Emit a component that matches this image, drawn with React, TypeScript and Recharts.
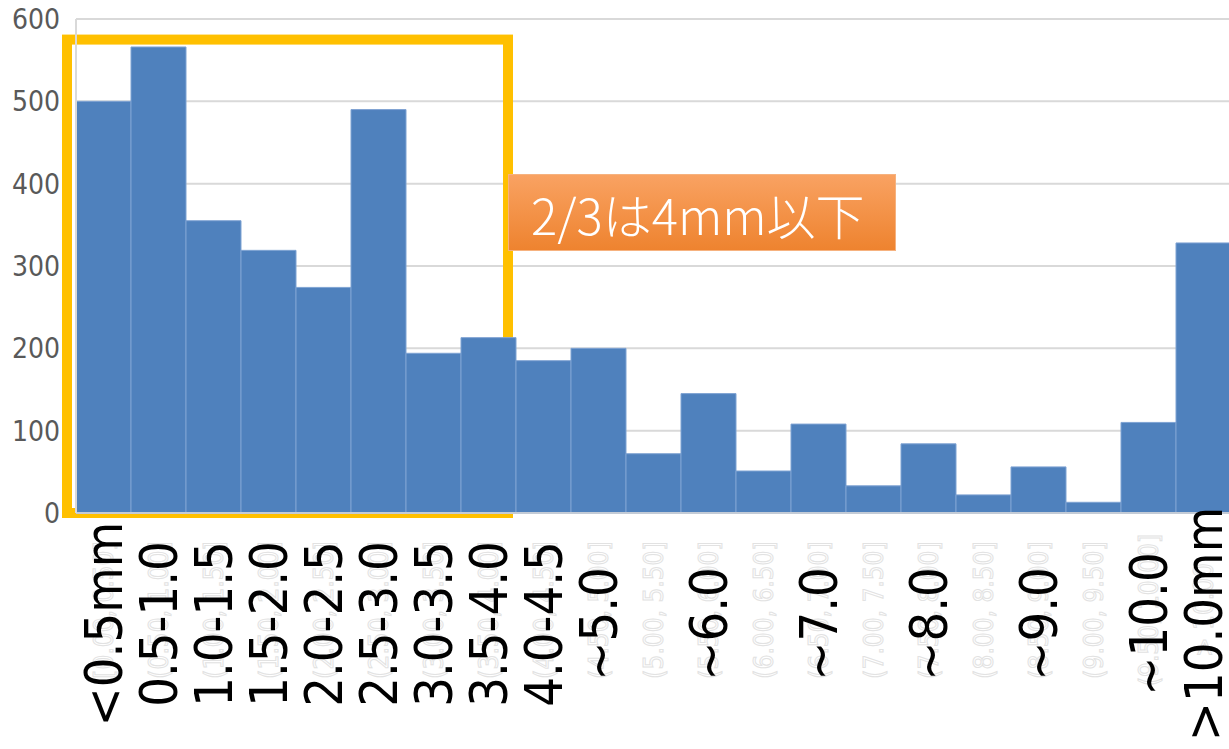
import React from "react";
import { BarChart, Bar, XAxis, YAxis, CartesianGrid, ReferenceArea } from "recharts";

const bins = [
  "[0.00, 0.50]", "(0.50, 1.00]", "(1.00, 1.50]", "(1.50, 2.00]", "(2.00, 2.50]",
  "(2.50, 3.00]", "(3.00, 3.50]", "(3.50, 4.00]", "(4.00, 4.50]", "(4.50, 5.00]",
  "(5.00, 5.50]", "(5.50, 6.00]", "(6.00, 6.50]", "(6.50, 7.00]", "(7.00, 7.50]",
  "(7.50, 8.00]", "(8.00, 8.50]", "(8.50, 9.00]", "(9.00, 9.50]", "(9.50, 10.00]",
  "> 10.00",
];

const labels = [
  "<0.5mm", "0.5-1.0", "1.0-1.5", "1.5-2.0", "2.0-2.5", "2.5-3.0", "3.0-3.5", "3.5-4.0",
  "4.0-4.5", "~5.0", "", "~6.0", "", "~7.0", "", "~8.0", "", "~9.0", "", "~10.0", ">10.0mm",
];

const counts = [500, 566, 355, 319, 274, 490, 194, 213, 185, 200, 72, 145, 51, 108, 33, 84, 22, 56, 13, 110, 328];

const yTicks = [0, 100, 200, 300, 400, 500, 600];

const data = bins.map((bin, i) => ({ bin, count: counts[i] }));

const condensed = '"DejaVu Sans Condensed", "DejaVu Sans", sans-serif';

function CategoryTick(props: any) {
  const { x, y, payload } = props;
  const i = payload.index;
  return (
    <g>
      <text
        x={x}
        y={y + 89}
        transform={`rotate(-90 ${x} ${y + 89})`}
        textAnchor="middle"
        dy="0.35em"
        fontSize={26}
        fontFamily={condensed}
        fill="#fff"
        stroke="#e2e2e2"
        strokeWidth={1}
      >
        {bins[i]}
      </text>
      <text
        x={x}
        y={y + 103}
        transform={`rotate(-90 ${x} ${y + 103})`}
        textAnchor="middle"
        dy="0.36em"
        fontSize={52}
        fontFamily={condensed}
        fill="#000"
      >
        {labels[i]}
      </text>
    </g>
  );
}

function Frame(props: any) {
  const { x, y, width, height } = props;
  return <rect x={x - 9} y={y} width={width + 1} height={height} fill="none" stroke="#FFC000" strokeWidth={10} />;
}

export default function App() {
  return (
    <div style={{ position: "absolute", left: 0, top: 0, width: 1229, height: 749, overflow: "hidden", background: "#fff" }}>
      <BarChart width={1231} height={749} data={data} margin={{ top: 19, right: 0, bottom: 0, left: 0 }} barCategoryGap={0}>
        <CartesianGrid vertical={false} stroke="#d9d9d9" strokeWidth={2} />
        <XAxis
          dataKey="bin"
          height={236}
          interval={0}
          tickLine={false}
          axisLine={{ stroke: "#c3cbd6", strokeWidth: 2 }}
          tick={<CategoryTick />}
        />
        <YAxis
          width={76}
          domain={[0, 600]}
          ticks={yTicks}
          tickLine={false}
          tickMargin={10}
          axisLine={{ stroke: "#d9d9d9", strokeWidth: 2 }}
          tick={{ fontSize: 28, fill: "#595959", fontFamily: condensed }}
        />
        <Bar dataKey="count" fill="#4F81BD" stroke="#7FA3D3" strokeWidth={1} isAnimationActive={false} />
        <ReferenceArea x1={bins[0]} x2={bins[7]} y1={0} y2={575} ifOverflow="visible" shape={<Frame />} />
      </BarChart>
      <div
        style={{
          position: "absolute",
          left: 508,
          top: 174,
          width: 388,
          height: 77,
          border: "1px solid #F6B27F",
          background: "linear-gradient(#F9A262, #EE832F)",
          color: "#fff",
          fontFamily: '"Noto Sans CJK JP", sans-serif',
          fontWeight: 300,
          fontSize: 49,
          lineHeight: "77px",
          paddingLeft: 22,
          boxSizing: "border-box",
          whiteSpace: "nowrap",
        }}
      >
        2/3は4mm以下
      </div>
    </div>
  );
}
